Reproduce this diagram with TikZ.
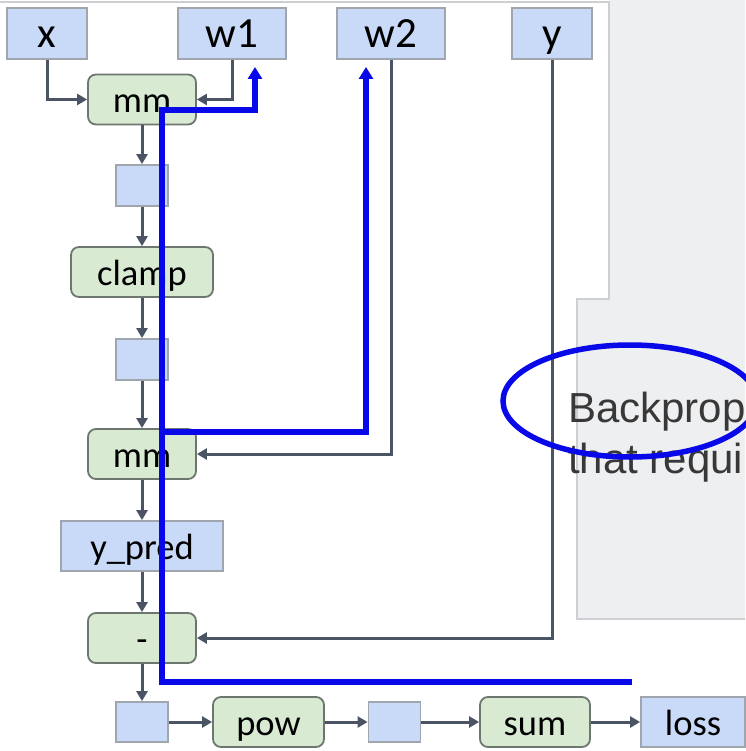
\documentclass[tikz,border=0pt]{standalone}
\usepackage{fontspec}
\setmainfont{Carlito}
\newfontfamily\slidefont{Liberation Sans}
\usetikzlibrary{
    arrows.meta,
    positioning
}
\definecolor{tensorfill}{RGB}{201,218,248}
\definecolor{tensoredge}{RGB}{160,166,174}
\definecolor{opfill}{RGB}{217,234,211}
\definecolor{opedge}{RGB}{110,118,112}
\definecolor{flowgray}{RGB}{74,84,100}
\definecolor{panelgray}{RGB}{238,239,241}
\definecolor{paneledge}{RGB}{205,207,210}
\definecolor{gradblue}{RGB}{8,8,232}
\tikzset{
    % Colors
    panel gray/.style={fill=panelgray},
    panel edge/.style={draw=paneledge,line width=1.2pt},
    %
    % Nodes
    tensor/.style={rectangle,fill=tensorfill,draw=tensoredge,line width=1.8pt,inner sep=0pt,minimum height=51pt,text height=27pt,text depth=0pt},
    small tensor/.style={tensor,minimum width=52pt,minimum height=41pt},
    op/.style={rectangle,rounded corners=8pt,fill=opfill,draw=opedge,line width=1.8pt,inner sep=0pt,minimum height=50pt,text height=27pt,text depth=0pt},
    top label/.style={font=\fontsize{43}{46}\selectfont,text height=29pt},
    slide text/.style={anchor=base west,inner sep=0pt,text=black!78,font=\slidefont\fontsize{42}{46}\selectfont},
    %
    % Arrows
    arrow tip/.tip={Triangle[length=10pt,width=11pt]},
    flow/.style={-{arrow tip},draw=flowgray,line width=3pt},
    grad tip/.tip={Triangle[length=12pt,width=14pt]},
    grad line/.style={-{grad tip},draw=gradblue,line width=5.5pt}
}
\tikzstyle{every node}=[font=\fontsize{36.5}{40}\selectfont]

\begin{document}
\begin{tikzpicture}[x=1pt,y=-1pt]
    \useasboundingbox (0,0) rectangle (745,751);
    % slide behind the graph
    \fill[panel gray] (609,0) -- (745,0) -- (745,619) -- (577,619) -- (577,299) -- (609,299) -- cycle;
    \draw[panel edge] (0,2) -- (609,2) -- (609,299) -- (577,299) -- (577,619) -- (745,619);
    \node[slide text] (bp1) at (568,422) {Backprop};
    \node[slide text] (bp2) at (568,473) {that requi};
    %
    % inputs
    \node[tensor,top label,minimum width=80pt] (x) at (47,33.5) {x};
    \node[tensor,top label,minimum width=108pt] (w1) at (232,33.5) {w1};
    \node[tensor,top label,minimum width=108pt] (w2) at (391,33.5) {w2};
    \node[tensor,top label,minimum width=80pt] (y) at (552,33.5) {y};
    %
    % forward graph
    \node[op,minimum width=108pt] (mm1) at (142,99.5) {mm};
    \node[small tensor] (sb1) at (142,185.5) {};
    \node[op,minimum width=142pt] (clamp) at (142,272) {clamp};
    \node[small tensor] (sb2) at (142,359.5) {};
    \node[op,minimum width=108pt] (mm2) at (142,454) {mm};
    \node[tensor,minimum width=162pt,minimum height=50pt] (ypred) at (142,546) {y\_pred};
    \node[op,minimum width=108pt] (minus) at (142,638) {-};
    \node[small tensor,minimum height=40pt] (sb3) at (142,722) {};
    \node[op,minimum width=111pt] (pow) at (268.5,722) {pow};
    \node[small tensor,minimum height=40pt] (sb4) at (394.5,722) {};
    \node[op,minimum width=110pt] (sum) at (535,722) {sum};
    \node[tensor,minimum width=104pt,minimum height=50pt] (loss) at (693,722) {loss};
    %
    \draw[flow] (x.south) |- (mm1.west);
    \draw[flow] (w1.south) |- (mm1.east);
    \draw[flow] (w2.south) |- (mm2.east);
    \draw[flow] (y.south) |- (minus.east);
    \foreach \a/\b in {mm1/sb1,sb1/clamp,clamp/sb2,sb2/mm2,mm2/ypred,ypred/minus,minus/sb3,sb3/pow,pow/sb4,sb4/sum,sum/loss}{
        \draw[flow] (\a) -- (\b);
    }
    %
    % backward pass
    \coordinate (loss grad) at (632,682);
    \coordinate (w1 grad) at (255,67);
    \coordinate (w2 grad) at (366,67);
    \coordinate (mm1 tap) at (162,110);
    \coordinate (mm2 tap) at (162,432);
    \draw[grad line] (loss grad) -- (mm1 tap |- loss grad) -- (mm1 tap) -| (w1 grad);
    \draw[grad line] (mm2 tap) -| (w2 grad);
    \draw[grad line,-] (630,401) ellipse [x radius=127,y radius=56];
\end{tikzpicture}
\end{document}
